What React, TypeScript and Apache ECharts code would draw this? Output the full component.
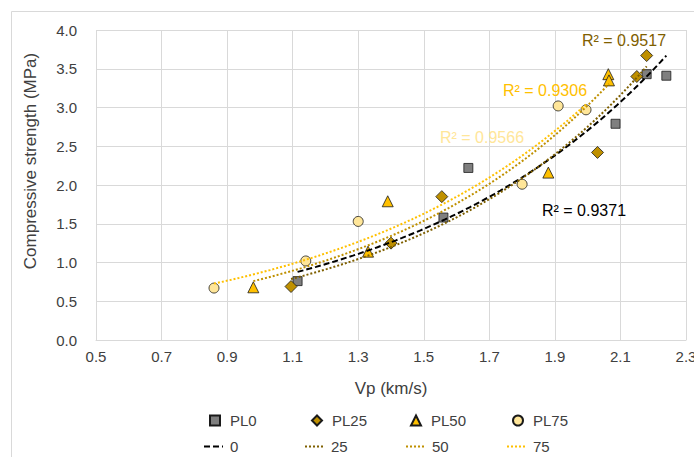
import React, { useEffect, useRef } from "react";
import * as echarts from "echarts";

// Scatter data (Vp km/s, compressive strength MPa)
const pl0X = [1.115, 1.56, 1.636, 2.085, 2.18, 2.24];
const pl0Y = [0.76, 1.58, 2.22, 2.79, 3.43, 3.41];
const pl25X = [1.095, 1.4, 1.555, 2.03, 2.15, 2.18];
const pl25Y = [0.69, 1.25, 1.85, 2.42, 3.4, 3.67];
const pl50X = [0.98, 1.33, 1.39, 1.88, 2.063, 2.065];
const pl50Y = [0.68, 1.14, 1.79, 2.16, 3.43, 3.35];
const pl75X = [0.86, 1.14, 1.3, 1.8, 1.91, 1.995];
const pl75Y = [0.67, 1.02, 1.53, 2.01, 3.02, 2.97];

const scatterNames = ["PL0", "PL25", "PL50", "PL75"];
const trendNames = ["0", "25", "50", "75"];
const r2Labels = ["R² = 0.9371", "R² = 0.9517", "R² = 0.9306", "R² = 0.9566"];

const FONT = "Liberation Sans";

function expTrend(xs: number[], ys: number[]): number[][] {
  const n = xs.length;
  let sx = 0, sl = 0, sxx = 0, sxl = 0;
  for (let i = 0; i < n; i++) {
    const l = Math.log(ys[i]);
    sx += xs[i]; sl += l; sxx += xs[i] * xs[i]; sxl += xs[i] * l;
  }
  const b = (n * sxl - sx * sl) / (n * sxx - sx * sx);
  const lnA = (sl - b * sx) / n;
  const xmin = Math.min(...xs), xmax = Math.max(...xs);
  const pts: number[][] = [];
  const steps = 60;
  for (let k = 0; k <= steps; k++) {
    const x = xmin + ((xmax - xmin) * k) / steps;
    pts.push([x, Math.exp(lnA + b * x)]);
  }
  return pts;
}

const zip = (xs: number[], ys: number[]) => xs.map((x, i) => [x, ys[i]]);

export default function App() {
  const ref = useRef<HTMLDivElement>(null);
  useEffect(() => {
    if (!ref.current) return;
    const chart = echarts.init(ref.current, undefined, { renderer: "svg" });
    const markerColors = ["#7F7F7F", "#BF9000", "#FFC000", "#FFE699"];
    const symbols = ["rect", "diamond", "triangle", "circle"];
    const sizes = [9, 12, 11, 10];
    const trendColors = ["#000000", "#7F6000", "#BF9000", "#FFC000"];
    const xsAll = [pl0X, pl25X, pl50X, pl75X];
    const ysAll = [pl0Y, pl25Y, pl50Y, pl75Y];

    const scatterSeries = scatterNames.map((name, i) => ({
      type: "scatter",
      name,
      data: zip(xsAll[i], ysAll[i]),
      symbol: symbols[i],
      symbolSize: sizes[i],
      itemStyle: { color: markerColors[i], borderColor: "#1a1a1a", borderWidth: 0.8, opacity: 1 },
      z: 2,
    }));
    const trendSeries = trendNames.map((name, i) => ({
      type: "line",
      name,
      data: expTrend(xsAll[i], ysAll[i]),
      symbol: "none",
      showSymbol: false,
      lineStyle: {
        color: trendColors[i],
        width: 2,
        type: i === 0 ? [6, 3] : [2, 2],
      },
      itemStyle: { color: trendColors[i] },
      z: 3,
    }));

    const legendText = { fontFamily: FONT, fontSize: 15, color: "#404040" };
    const row1Left = [209, 311, 410, 512];
    const row2Left = [203, 304, 405, 506];
    const legends: any[] = [];
    scatterNames.forEach((n, i) =>
      legends.push({
        data: [n], left: row1Left[i], top: 413, itemWidth: 10, itemHeight: 10,
        padding: 0, textStyle: { ...legendText, padding: [0, 0, 0, 5] }, selectedMode: false,
      })
    );
    trendNames.forEach((n, i) =>
      legends.push({
        data: [n], left: row2Left[i], top: 439, itemWidth: 19, itemHeight: 10,
        padding: 0, textStyle: { ...legendText, padding: [0, 0, 0, 2] }, selectedMode: false,
        itemStyle: { opacity: 0 },
      })
    );

    const r2Pos = [
      [584, 210, "#000000"],
      [624, 40, "#7F6000"],
      [545, 90, "#FFC000"],
      [482, 137, "#FFE699"],
    ];

    chart.setOption({
      animation: false,
      backgroundColor: "#ffffff",
      grid: { left: 96, right: 8, top: 30, bottom: 117, containLabel: false, outerBoundsMode: "none" },
      xAxis: {
        type: "value",
        min: 0.5,
        max: 2.3,
        interval: 0.2,
        name: "Vp (km/s)",
        nameLocation: "middle",
        nameGap: 40,
        nameTextStyle: { fontFamily: FONT, fontSize: 17, color: "#404040" },
        axisLine: { show: true, lineStyle: { color: "#D9D9D9", width: 1 } },
        axisTick: { show: false },
        splitLine: { show: true, lineStyle: { color: "#D9D9D9", width: 1 } },
        axisLabel: {
          fontFamily: FONT, fontSize: 15, color: "#404040", margin: 9,
          formatter: (v: number) => v.toFixed(1),
        },
      },
      yAxis: {
        type: "value",
        min: 0,
        max: 4,
        interval: 0.5,
        axisLine: { show: false },
        axisTick: { show: false },
        splitLine: { show: true, lineStyle: { color: "#D9D9D9", width: 1 } },
        axisLabel: {
          fontFamily: FONT, fontSize: 15, color: "#404040", margin: 19,
          formatter: (v: number) => v.toFixed(1),
        },
      },
      legend: legends,
      graphic: [
        {
          type: "rect", silent: true,
          shape: { x: 11.5, y: 11.5, width: 720, height: 480 },
          style: { fill: "none", stroke: "#D9D9D9", lineWidth: 1 },
        },
        {
          type: "text", x: 30, y: 161, rotation: Math.PI / 2,
          style: {
            text: "Compressive strength (MPa)", fontFamily: FONT, fontSize: 17,
            fill: "#404040", align: "center", verticalAlign: "middle",
          },
        },
        ...r2Labels.map((t, i) => ({
          type: "text", x: r2Pos[i][0], y: r2Pos[i][1], z: 10,
          style: {
            text: t, fontFamily: FONT, fontSize: 16, fill: r2Pos[i][2],
            align: "center", verticalAlign: "middle",
          },
        })),
      ],
      series: [...scatterSeries, ...trendSeries],
    });
    return () => chart.dispose();
  }, []);
  return (
    <div
      ref={ref}
      style={{ position: "absolute", left: 0, top: 0, width: 694, height: 457 }}
    />
  );
}
